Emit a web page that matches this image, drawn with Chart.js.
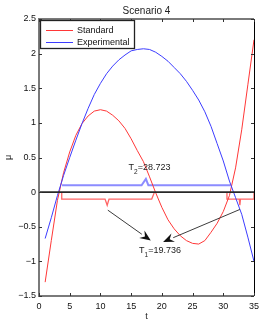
<!DOCTYPE html>
<html>
<head>
<meta charset="utf-8">
<script src="https://cdn.jsdelivr.net/npm/chart.js@4.4.0/dist/chart.umd.min.js"></script>
<style>
  html, body { margin: 0; padding: 0; background: #fff; }
  canvas { display: block; }
</style>
</head>
<body>
<canvas id="chart" width="266" height="327"></canvas>
<script>
// --- Data ---
const tValues = [1, 2, 3, 4, 5, 6, 7, 8, 9, 10, 11, 12, 13, 14, 15, 16, 17, 18,
  19, 20, 21, 22, 23, 24, 25, 26, 27, 28, 29, 30, 31, 32, 33, 34, 35];
const standardMu = [-1.30, -0.70, -0.12, 0.28, 0.58, 0.82, 0.99, 1.10, 1.17, 1.19,
  1.17, 1.11, 1.03, 0.92, 0.77, 0.60, 0.44, 0.22, -0.01, -0.22, -0.40, -0.53,
  -0.63, -0.70, -0.74, -0.75, -0.70, -0.58, -0.45, -0.28, -0.05, 0.35, 0.90,
  1.55, 2.20];
const experimentalMu = [-0.67, -0.37, -0.05, 0.24, 0.50, 0.75, 0.99, 1.21, 1.41,
  1.57, 1.71, 1.82, 1.91, 1.98, 2.04, 2.06, 2.07, 2.06, 2.02, 1.96, 1.89, 1.80,
  1.71, 1.60, 1.47, 1.33, 1.16, 0.95, 0.70, 0.45, 0.16, -0.08, -0.32, -0.65, -1.00];

// braces marking the sign intervals
const blueBraceT = [3.75, 16.7, 17.4, 17.8, 31.2];
const blueBraceMu = [0.10, 0.10, 0.19, 0.10, 0.10];
const redBrace1T = [3.7, 3.7, 10.75, 11.1, 11.4, 18.35, 18.8];
const redBrace1Mu = [0, -0.10, -0.10, -0.19, -0.10, -0.10, 0];
const redBrace2T = [30.6, 30.6, 32.6, 32.7, 32.8, 35, 35];
const redBrace2Mu = [0, -0.10, -0.10, -0.19, -0.10, -0.10, 0];
const zeroLineT = [0, 35];
const zeroLineMu = [0, 0];

// annotations: [label, subscript, value, t, mu]
const textNotes = [
  ['T', '2', '=28.723', 18.0, 0.35],
  ['T', '1', '=19.736', 19.7, -0.85]
];
// arrows: [tFrom, muFrom, tTo, muTo]
const arrowLines = [
  [11.2, -0.26, 18.2, -0.70],
  [32.7, -0.25, 20.2, -0.72]
];

const xTicks = [0, 5, 10, 15, 20, 25, 30, 35];
const yTicks = [-1.5, -1, -0.5, 0, 0.5, 1, 1.5, 2, 2.5];

const FONT = "'Liberation Sans', Arial, Helvetica, sans-serif";

function toPoints(xs, ys) {
  return xs.map((x, i) => ({ x: x, y: ys[i] }));
}

function fmtTick(v) {
  return v < 0 ? '\u2212' + Math.abs(v) : String(v);
}

// --- Decorations drawn over the plot ---
const decorPlugin = {
  id: 'decor',
  afterDatasetsDraw(chart) {
    const ctx = chart.ctx;
    const xs = chart.scales.x, ys = chart.scales.y;
    const a = chart.chartArea;
    ctx.save();

    // arrows
    ctx.strokeStyle = '#3c3c3c';
    ctx.fillStyle = '#111';
    ctx.lineWidth = 1;
    arrowLines.forEach(([t0, m0, t1, m1]) => {
      const x0 = xs.getPixelForValue(t0), y0 = ys.getPixelForValue(m0);
      const x1 = xs.getPixelForValue(t1), y1 = ys.getPixelForValue(m1);
      const ang = Math.atan2(y1 - y0, x1 - x0);
      const len = 11, half = 4.5;
      const bx = x1 - len * Math.cos(ang), by = y1 - len * Math.sin(ang);
      ctx.beginPath();
      ctx.moveTo(x0, y0);
      ctx.lineTo(bx, by);
      ctx.stroke();
      ctx.beginPath();
      ctx.moveTo(x1, y1);
      ctx.lineTo(bx + half * Math.sin(ang), by - half * Math.cos(ang));
      ctx.lineTo(x1 - 0.65 * len * Math.cos(ang), y1 - 0.65 * len * Math.sin(ang));
      ctx.lineTo(bx - half * Math.sin(ang), by + half * Math.cos(ang));
      ctx.closePath();
      ctx.fill();
    });

    // text notes with subscripts
    ctx.fillStyle = '#222';
    ctx.textBaseline = 'middle';
    textNotes.forEach(([main, sub, rest, t, m]) => {
      ctx.font = '9px ' + FONT;
      const w1 = ctx.measureText(main).width;
      const w3 = ctx.measureText(rest).width;
      ctx.font = '6.5px ' + FONT;
      const w2 = ctx.measureText(sub).width;
      const total = w1 + w2 + w3;
      let x = xs.getPixelForValue(t) - total / 2;
      const y = ys.getPixelForValue(m);
      ctx.textAlign = 'left';
      ctx.font = '9px ' + FONT;
      ctx.fillText(main, x, y);
      ctx.font = '6.5px ' + FONT;
      ctx.fillText(sub, x + w1, y + 4);
      ctx.font = '9px ' + FONT;
      ctx.fillText(rest, x + w1 + w2, y);
    });

    // axes frame
    ctx.strokeStyle = '#7a7a7a';
    ctx.lineWidth = 2;
    ctx.beginPath();
    ctx.moveTo(a.right, a.top);
    ctx.lineTo(a.left, a.top);
    ctx.lineTo(a.left, a.bottom);
    ctx.lineTo(a.right, a.bottom);
    ctx.stroke();
    ctx.strokeStyle = '#000';
    ctx.lineWidth = 1;
    ctx.beginPath();
    ctx.moveTo(Math.round(a.right) + 0.5, a.top);
    ctx.lineTo(Math.round(a.right) + 0.5, a.bottom);
    ctx.stroke();

    // inward tick marks
    ctx.strokeStyle = '#333';
    ctx.lineWidth = 1;
    ctx.beginPath();
    xTicks.forEach(v => {
      const px = Math.round(xs.getPixelForValue(v)) + 0.5;
      ctx.moveTo(px, a.bottom); ctx.lineTo(px, a.bottom - 3);
      ctx.moveTo(px, a.top); ctx.lineTo(px, a.top + 3);
    });
    yTicks.forEach(v => {
      const py = Math.round(ys.getPixelForValue(v)) + 0.5;
      ctx.moveTo(a.left, py); ctx.lineTo(a.left + 3, py);
      ctx.moveTo(a.right, py); ctx.lineTo(a.right - 3, py);
    });
    ctx.stroke();

    // legend
    const lx = 40.5, ly = 20.5, lw = 94, lh = 28;
    ctx.fillStyle = '#fff';
    ctx.fillRect(lx, ly, lw, lh);
    ctx.strokeStyle = '#222';
    ctx.lineWidth = 1.3;
    ctx.strokeRect(lx, ly, lw, lh);
    ctx.lineWidth = 1;
    [0, 1].forEach((di, i) => {
      const ds = chart.data.datasets[di];
      const y = 30 + i * 12;
      ctx.strokeStyle = ds.borderColor;
      ctx.beginPath();
      ctx.moveTo(46, y + 0.5);
      ctx.lineTo(73, y + 0.5);
      ctx.stroke();
      ctx.fillStyle = '#111';
      ctx.font = '9px ' + FONT;
      ctx.textAlign = 'left';
      ctx.textBaseline = 'middle';
      ctx.fillText(ds.label, 77, y + 0.5);
    });

    // title and axis labels
    ctx.fillStyle = '#222';
    ctx.textAlign = 'center';
    ctx.font = '10px ' + FONT;
    ctx.fillText('Scenario 4', (a.left + a.right) / 2, 11);
    ctx.font = '9px ' + FONT;
    ctx.fillText('t', (a.left + a.right) / 2, 317);
    ctx.save();
    ctx.translate(9, (a.top + a.bottom) / 2);
    ctx.rotate(-Math.PI / 2);
    ctx.fillText('\u03bc', 0, 0);
    ctx.restore();

    ctx.restore();
  }
};

const lineDefaults = { pointRadius: 0, tension: 0, fill: false };

new Chart(document.getElementById('chart'), {
  type: 'line',
  data: {
    datasets: [
      Object.assign({ label: 'Standard', data: toPoints(tValues, standardMu),
        borderColor: 'rgb(255,55,55)', borderWidth: 1, order: 3 }, lineDefaults),
      Object.assign({ label: 'Experimental', data: toPoints(tValues, experimentalMu),
        borderColor: 'rgb(60,60,255)', borderWidth: 1, order: 2 }, lineDefaults),
      Object.assign({ label: 'zero', data: toPoints(zeroLineT, zeroLineMu),
        borderColor: 'rgb(40,40,40)', borderWidth: 1.6, order: 1 }, lineDefaults),
      Object.assign({ label: 'brace T2', data: toPoints(blueBraceT, blueBraceMu),
        borderColor: 'rgb(140,140,255)', borderWidth: 2, order: 4 }, lineDefaults),
      Object.assign({ label: 'brace T1a', data: toPoints(redBrace1T, redBrace1Mu),
        borderColor: 'rgb(255,100,100)', borderWidth: 1.3, order: 5 }, lineDefaults),
      Object.assign({ label: 'brace T1b', data: toPoints(redBrace2T, redBrace2Mu),
        borderColor: 'rgb(255,100,100)', borderWidth: 1.3, order: 5 }, lineDefaults)
    ]
  },
  options: {
    responsive: false,
    animation: false,
    devicePixelRatio: 1,
    layout: { padding: { top: 19, right: 12, left: 0, bottom: 0 } },
    plugins: {
      legend: { display: false },
      title: { display: false },
      tooltip: { enabled: false }
    },
    scales: {
      x: {
        type: 'linear',
        min: 0,
        max: 35,
        afterBuildTicks: s => { s.ticks = xTicks.map(v => ({ value: v })); },
        afterFit: s => { s.height = 31; },
        grid: { display: false, drawTicks: false },
        border: { display: false },
        ticks: { padding: 5, color: '#111', font: { family: FONT, size: 9 },
          maxRotation: 0, callback: fmtTick }
      },
      y: {
        type: 'linear',
        min: -1.5,
        max: 2.5,
        afterBuildTicks: s => { s.ticks = yTicks.map(v => ({ value: v })); },
        afterFit: s => { s.width = 39; },
        grid: { display: false, drawTicks: false },
        border: { display: false },
        ticks: { padding: 3, color: '#111', font: { family: FONT, size: 9 },
          callback: fmtTick }
      }
    }
  },
  plugins: [decorPlugin]
});
</script>
</body>
</html>
